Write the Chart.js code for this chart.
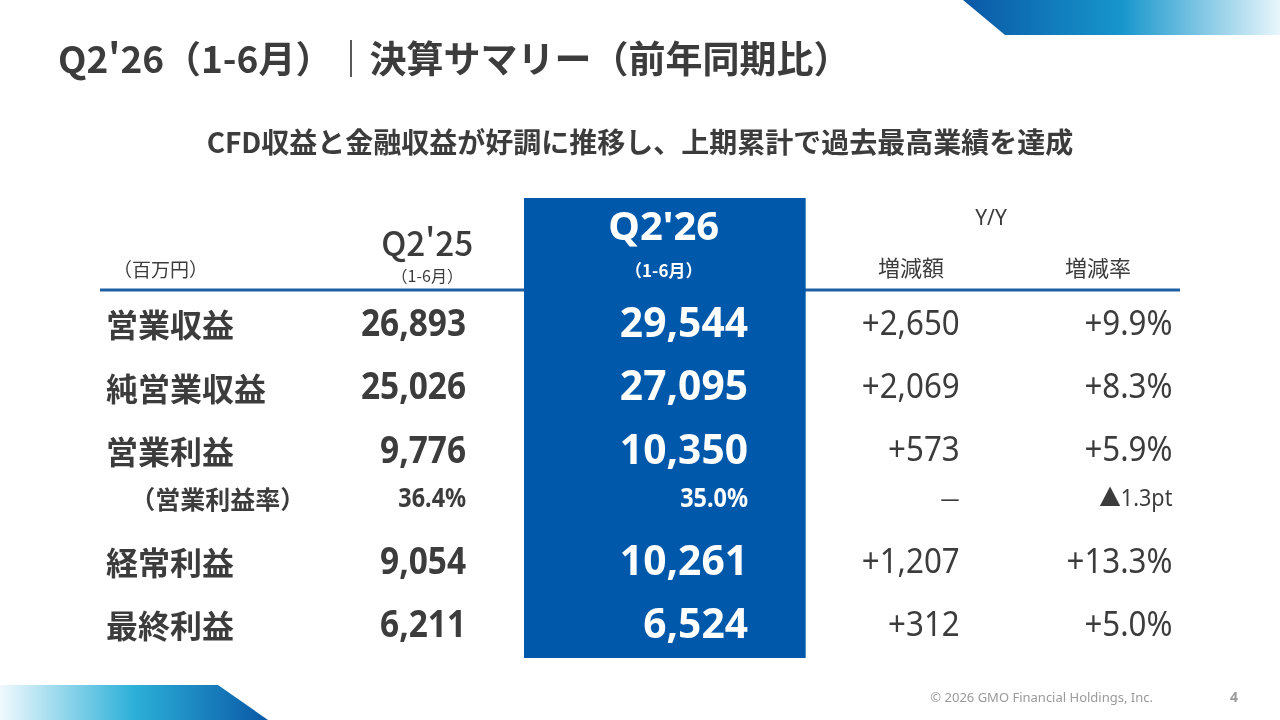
<!DOCTYPE html>
<html lang="ja">
<head>
<meta charset="utf-8">
<script src="https://cdn.jsdelivr.net/npm/chart.js@4.4.1/dist/chart.umd.min.js"></script>
<style>
html, body { margin: 0; padding: 0; background: #fff; }
#page { position: relative; width: 1280px; height: 720px; overflow: hidden; font-family: "Noto Sans CJK JP", "Noto Sans", sans-serif; color: #3c3c3c; }
#decoTop { position: absolute; left: 963px; top: 0; width: 317px; height: 35px;
  background: linear-gradient(90deg, #0a58a6 0%, #1796cc 50%, #e8f6fb 100%);
  clip-path: polygon(0 0, 100% 0, 100% 100%, 42px 100%); }
#decoBottom { position: absolute; left: 0; top: 685px; width: 268px; height: 35px;
  background: linear-gradient(90deg, #f0f9fd 0%, #2cb0d8 50%, #0a58a6 100%);
  clip-path: polygon(0 0, 218px 0, 100% 100%, 0 100%); }
#title { position: absolute; left: 58px; top: 37px; margin: 0; font-size: 37px; line-height: 40px; font-weight: bold; color: #3c3c3c; white-space: nowrap; }
#subtitle { position: absolute; left: 0; width: 1280px; top: 125px; margin: 0; text-align: center; font-size: 28px; line-height: 32px; font-weight: bold; color: #3c3c3c; }
#footer { position: absolute; right: 127px; top: 688px; font-size: 13px; color: #9a9a9a; font-family: "Noto Sans", sans-serif; }
#pageNo { position: absolute; left: 1230px; top: 687px; font-size: 14px; font-weight: bold; color: #9a9a9a; font-family: "Noto Sans", sans-serif; }
#chart { position: absolute; left: 0; top: 0; }
</style>
</head>
<body>
<div id="page">
  <div id="decoTop"></div>
  <div id="decoBottom"></div>
  <canvas id="chart" width="1280" height="720"></canvas>
  <h1 id="title">Q2'26（1-6月）｜決算サマリー（前年同期比）</h1>
  <p id="subtitle">CFD収益と金融収益が好調に推移し、上期累計で過去最高業績を達成</p>
  <div id="footer">© 2026 GMO Financial Holdings, Inc.</div>
  <div id="pageNo">4</div>
</div>
<script>
// データ（百万円）
const rowLabels = ['営業収益', '純営業収益', '営業利益', '（営業利益率）', '経常利益', '最終利益'];
const prevValues = [26893, 25026, 9776, 36.4, 9054, 6211];     // Q2'25
const currValues = [29544, 27095, 10350, 35.0, 10261, 6524];   // Q2'26
const yoyAmount = [2650, 2069, 573, null, 1207, 312];
const yoyRate = [9.9, 8.3, 5.9, -1.3, 13.3, 5.0];
const columnHeads = ["Q2'25", "Q2'26", '増減額', '増減率'];
const periodLabel = '（1-6月）';
const unitLabel = '（百万円）';
const yoyLabel = 'Y/Y';
const marginRow = 3;

// レイアウト（スケール上の位置）
const rowPos = [1, 2, 3, 3.75, 4.75, 5.75];
const textColor = '#3c3c3c';
const blue = '#0058ab';
const lineColor = '#1f5fa3';

function fmtNum(v) { return v.toLocaleString('en-US'); }
function fmtPct(v) { return v.toFixed(1) + '%'; }
function fmtSigned(v) { return '+' + fmtNum(v); }
function fmtRate(v, i) {
  if (i === marginRow) return (v < 0 ? '▲' : '+') + Math.abs(v).toFixed(1) + 'pt';
  return (v >= 0 ? '+' : '▲') + Math.abs(v).toFixed(1) + '%';
}

function put(ctx, text, px, py, font, color, align, sx) {
  ctx.save();
  ctx.font = font;
  ctx.fillStyle = color;
  ctx.textAlign = align;
  ctx.textBaseline = 'middle';
  ctx.translate(px, py);
  ctx.scale(sx || 1, 1);
  ctx.fillText(text, 0, 0);
  ctx.restore();
}

const JP = '"Noto Sans CJK JP", sans-serif';
const NUM = '"Noto Sans", "Noto Sans CJK JP", sans-serif';

const tablePlugin = {
  id: 'tableText',
  beforeDatasetsDraw(chart) {
    const { ctx, scales: { x, y } } = chart;
    ctx.save();
    ctx.strokeStyle = lineColor;
    ctx.lineWidth = 3;
    ctx.beginPath();
    ctx.moveTo(x.getPixelForValue(0), y.getPixelForValue(0.45));
    ctx.lineTo(x.getPixelForValue(10), y.getPixelForValue(0.45));
    ctx.stroke();
    ctx.restore();
  },
  afterDatasetsDraw(chart) {
    const { ctx, scales: { x, y } } = chart;
    const X = v => x.getPixelForValue(v);
    const Y = v => y.getPixelForValue(v);

    // ヘッダー
    put(ctx, unitLabel, X(0.12), Y(0.13), '19px ' + JP, textColor, 'left');
    put(ctx, columnHeads[0], X(3.03), Y(-0.29), '500 34px ' + JP, textColor, 'center', 0.98);
    put(ctx, periodLabel, X(3.03), Y(0.23), '16px ' + JP, textColor, 'center');
    put(ctx, columnHeads[1], X(5.22), Y(-0.52), 'bold 40px ' + NUM, '#fff', 'center');
    put(ctx, periodLabel, X(5.22), Y(0.15), 'bold 17px ' + JP, '#fff', 'center');
    put(ctx, yoyLabel, X(8.25), Y(-0.67), '21px ' + NUM, textColor, 'center');
    put(ctx, columnHeads[2], X(7.51), Y(0.1), '22px ' + JP, textColor, 'center');
    put(ctx, columnHeads[3], X(9.24), Y(0.1), '22px ' + JP, textColor, 'center');

    rowLabels.forEach((label, i) => {
      const py = Y(rowPos[i]);
      if (i === marginRow) {
        put(ctx, label, X(0.28), py, 'bold 25px ' + JP, textColor, 'left');
        put(ctx, fmtPct(prevValues[i]), X(3.39), py, 'bold 26px ' + NUM, textColor, 'right', 0.9);
        put(ctx, fmtPct(currValues[i]), X(6.0), py, 'bold 26px ' + NUM, '#fff', 'right', 0.9);
        put(ctx, '－', X(7.87), py, '24px ' + JP, textColor, 'center');
        put(ctx, fmtRate(yoyRate[i], i), X(9.93), py, '24px ' + NUM, textColor, 'right', 0.9);
      } else {
        put(ctx, label, X(0.056), py, 'bold 32px ' + JP, textColor, 'left');
        put(ctx, fmtNum(prevValues[i]), X(3.39), py, 'bold 38px ' + NUM, textColor, 'right', 0.88);
        put(ctx, fmtNum(currValues[i]), X(6.0), py, 'bold 42px ' + NUM, '#fff', 'right', 0.97);
        put(ctx, fmtSigned(yoyAmount[i]), X(7.96), py, '34px ' + NUM, textColor, 'right', 0.92);
        put(ctx, fmtRate(yoyRate[i], i), X(9.93), py, '34px ' + NUM, textColor, 'right', 0.92);
      }
    });
  }
};

new Chart(document.getElementById('chart'), {
  type: 'bar',
  data: {
    datasets: [{
      label: columnHeads[1],
      data: [{ x: 5.23, y: [-1, 6.25] }],
      backgroundColor: blue,
      borderWidth: 0,
      borderSkipped: false,
      barThickness: 281
    }]
  },
  options: {
    responsive: false,
    animation: false,
    layout: { padding: { left: 100, right: 100, top: 198, bottom: 62 } },
    plugins: { legend: { display: false }, tooltip: { enabled: false } },
    scales: {
      x: { type: 'linear', min: 0, max: 10, offset: false, display: false },
      y: { type: 'linear', min: -1, max: 6.25, reverse: true, display: false }
    }
  },
  plugins: [tablePlugin]
});
</script>
</body>
</html>
